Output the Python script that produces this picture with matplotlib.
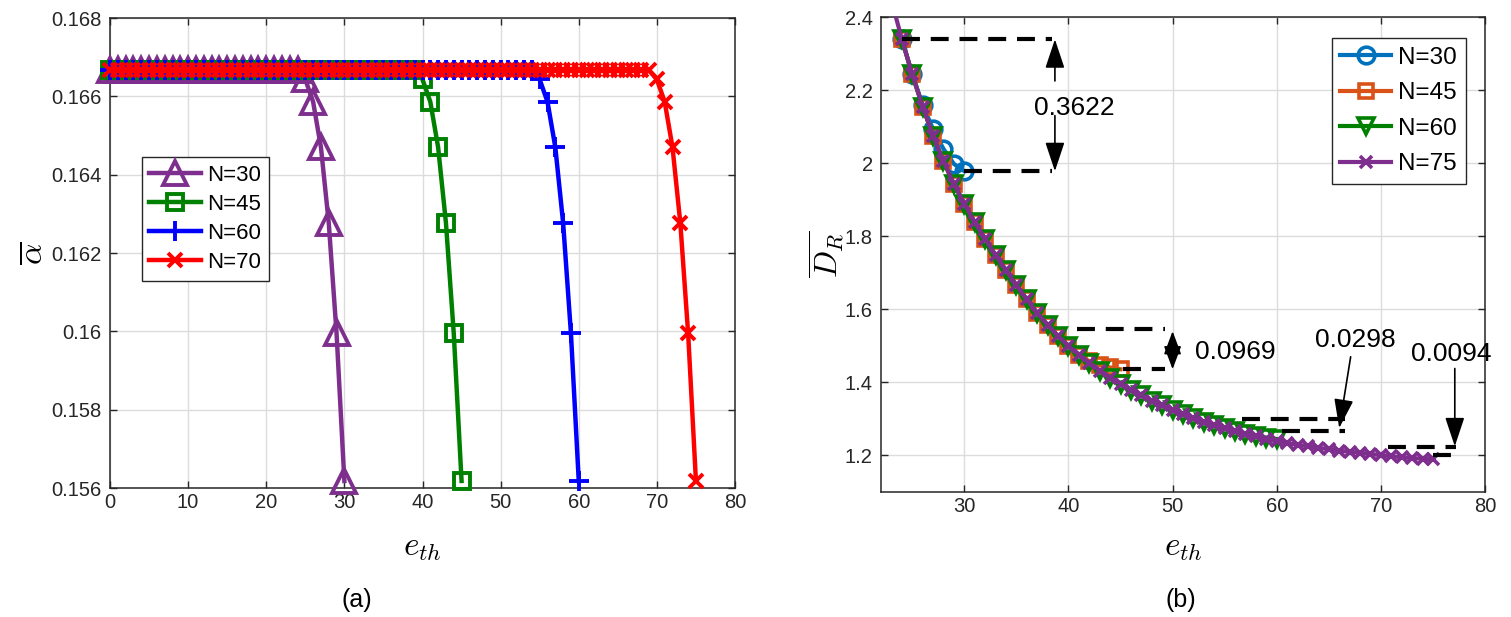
import numpy as np
import matplotlib
matplotlib.use("Agg")
import matplotlib.pyplot as plt

plt.rcParams['font.family'] = ['Liberation Sans', 'DejaVu Sans']
plt.rcParams['mathtext.fontset'] = 'cm'

# ---- (a) average alpha vs e_th ----
FLAT = 0.16667
drop_a = [0.16643, 0.16586, 0.16470, 0.16277, 0.15995, 0.15618]
n_list_a = [30, 45, 60, 70]
start_a = [25, 40, 55, 70]          # e_th where the drop begins
colors_a = ['#7E2F8E', '#008000', '#0000FF', '#FF0000']
markers_a = ['^', 's', '+', 'x']
msize_a = [17, 12, 15, 10]

# ---- (b) average D_R vs e_th ----
eth_75 = list(range(23, 76))
dr_75 = [2.445, 2.340, 2.243, 2.155, 2.075, 2.005, 1.943, 1.889, 1.838, 1.793,
         1.748, 1.707, 1.666, 1.627, 1.590, 1.557, 1.527, 1.500, 1.476, 1.453,
         1.432, 1.413, 1.396, 1.380, 1.365, 1.350, 1.337, 1.324, 1.313, 1.302,
         1.292, 1.283, 1.275, 1.267, 1.259, 1.252, 1.245, 1.239, 1.234, 1.229,
         1.225, 1.221, 1.217, 1.213, 1.210, 1.207, 1.204, 1.201, 1.198, 1.195,
         1.193, 1.191, 1.189]
eth_30 = list(range(24, 31))
dr_30 = [2.340, 2.243, 2.160, 2.093, 2.039, 1.998, 1.978]
eth_45 = list(range(24, 46))
dr_45 = [2.340, 2.243, 2.155, 2.075, 2.005, 1.943, 1.889, 1.838, 1.793, 1.748,
         1.707, 1.666, 1.627, 1.590, 1.557, 1.527, 1.500, 1.476, 1.458, 1.447,
         1.441, 1.436]
eth_60 = list(range(24, 61))
dr_60 = [2.340, 2.243, 2.155, 2.075, 2.005, 1.943, 1.889, 1.838, 1.793, 1.748,
         1.707, 1.666, 1.627, 1.590, 1.557, 1.527, 1.500, 1.476, 1.453, 1.432,
         1.413, 1.396, 1.380, 1.365, 1.350, 1.337, 1.324, 1.313, 1.302, 1.292,
         1.283, 1.275, 1.267, 1.260, 1.254, 1.249, 1.245]

# gap annotations: (x_start_top, y_top, x_start_bot, y_bot, x_end)
gaps = [(24, 2.340, 30, 1.978, 38.4),
        (40.8, 1.545, 45.2, 1.436, 49.3),
        (56.7, 1.299, 60.5, 1.268, 66.6),
        (70.7, 1.222, 75.0, 1.202, 77.2)]
gap_text = ['0.3622', '0.0969', '0.0298', '0.0094']
gap_text_xy = [(40.6, 2.152), (56.0, 1.484), (67.5, 1.516), (76.8, 1.479)]

fig = plt.figure(figsize=(15.11, 6.17), dpi=100)
axa = fig.add_axes([110 / 1511, 1 - 488 / 617, 625 / 1511, 470 / 617])
axb = fig.add_axes([881 / 1511, 1 - 492 / 617, 604 / 1511, 475 / 617])

for n, s, c, m, ms in zip(n_list_a, start_a, colors_a, markers_a, msize_a):
    x = list(range(0, s + len(drop_a)))
    y = [FLAT] * s + drop_a
    axa.plot(x, y, color=c, marker=m, ms=ms, mfc='none', mew=2.8, lw=3.2,
             label='N=%d' % n, clip_on=False, zorder=3)

axa.set_xlim(0, 80)
axa.set_ylim(0.156, 0.168)
axa.set_xticks(np.arange(0, 81, 10))
axa.set_yticks(np.arange(0.156, 0.1681, 0.002))
axa.set_yticklabels(['0.156', '0.158', '0.16', '0.162', '0.164', '0.166', '0.168'])
axa.legend(loc='lower left', bbox_to_anchor=(0.0507, 0.441), borderaxespad=0,
           fontsize=16, fancybox=False, framealpha=1, edgecolor='#262626',
           handlelength=2.3, handletextpad=0.3, labelspacing=0.36,
           borderpad=0.35)

series_b = [(eth_30, dr_30, '#0072BD', 'o', 12, 'N=30'),
            (eth_45, dr_45, '#D95319', 's', 10, 'N=45'),
            (eth_60, dr_60, '#008000', 'v', 12, 'N=60'),
            (eth_75, dr_75, '#7E2F8E', 'x', 9, 'N=75')]
for x, y, c, m, ms, lab in series_b:
    axb.plot(x, y, color=c, marker=m, ms=ms, mfc='none', mew=2.6, lw=3,
             label=lab, zorder=3)

for (x1, y1, x2, y2, xe) in gaps:
    axb.plot([x1, xe], [y1, y1], color='k', lw=3, dashes=(4.3, 2.6), zorder=4)
    axb.plot([x2, xe], [y2, y2], color='k', lw=3, dashes=(4.3, 2.6), zorder=4)

arrow_kw = dict(arrowstyle='-|>,head_length=0.9,head_width=0.3', color='k',
                lw=1.2, mutation_scale=20, shrinkA=0, shrinkB=0)
axb.annotate('', xy=(38.7, 2.339), xytext=(38.7, 2.225), arrowprops=arrow_kw)
axb.annotate('', xy=(38.7, 1.978), xytext=(38.7, 2.130), arrowprops=arrow_kw)
axb.annotate('', xy=(50.0, 1.436), xytext=(50.0, 1.540),
             arrowprops=dict(arrowstyle='<|-|>,head_length=0.8,head_width=0.3',
                             color='k', lw=1.2, mutation_scale=18,
                             shrinkA=0, shrinkB=0))
axb.annotate('', xy=(66.0, 1.275), xytext=(67.1, 1.470), arrowprops=arrow_kw)
axb.annotate('', xy=(77.1, 1.225), xytext=(77.1, 1.438), arrowprops=arrow_kw)
for t, (tx, ty) in zip(gap_text, gap_text_xy):
    axb.text(tx, ty, t, fontsize=19, ha='center', va='center', zorder=5)

axb.set_xlim(22, 80)
axb.set_ylim(1.1, 2.4)
axb.set_xticks(np.arange(30, 81, 10))
axb.set_yticks(np.arange(1.2, 2.41, 0.2))
axb.set_yticklabels(['1.2', '1.4', '1.6', '1.8', '2', '2.2', '2.4'])
axb.legend(loc='upper right', bbox_to_anchor=(0.968, 0.955), borderaxespad=0,
           fontsize=17.5, fancybox=False, framealpha=1, edgecolor='#262626',
           handlelength=2.1, handletextpad=0.3, labelspacing=0.55,
           borderpad=0.35)

for ax in (axa, axb):
    ax.grid(True, color='#dcdcdc', lw=1)
    ax.set_axisbelow(True)
    ax.tick_params(direction='in', top=True, right=True, labelsize=14.5,
                   colors='#262626', length=5, width=1)
    ax.tick_params(axis='y', pad=6)
    for sp in ax.spines.values():
        sp.set_color('#262626')
        sp.set_linewidth(1.1)

fig.text(422 / 1511, 1 - 547 / 617, r'$e_{th}$', fontsize=24, ha='center', va='center')
fig.text(1183 / 1511, 1 - 547 / 617, r'$e_{th}$', fontsize=24, ha='center', va='center')
fig.text(34 / 1511, 1 - 253 / 617, r'$\overline{\alpha}$', fontsize=24,
         ha='center', va='center', rotation=90)
fig.text(826 / 1511, 1 - 254 / 617, r'$\overline{D_R}$', fontsize=23,
         ha='center', va='center', rotation=90)
fig.text(357 / 1511, 1 - 600 / 617, '(a)', fontsize=18, ha='center', va='center')
fig.text(1181 / 1511, 1 - 600 / 617, '(b)', fontsize=18, ha='center', va='center')

fig.savefig('out.png', dpi=100)
